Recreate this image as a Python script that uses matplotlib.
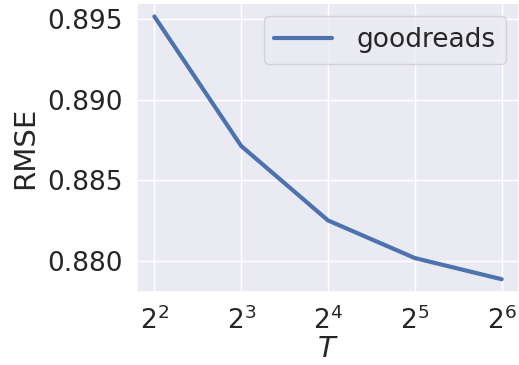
import matplotlib
matplotlib.use("Agg")
import matplotlib.pyplot as plt
import seaborn as sns

# RMSE on goodreads for different values of T
t_values = [4, 8, 16, 32, 64]
rmse_goodreads = [0.89515, 0.88713, 0.88252, 0.88019, 0.87888]
series_label = "goodreads"

sns.set_theme(style="darkgrid")
plt.rcParams["font.family"] = ["DejaVu Sans"]

fig = plt.figure(figsize=(5.19, 3.65), dpi=100)
ax = fig.add_axes([0.264, 0.199, 0.736, 0.792])

ax.plot(t_values, rmse_goodreads, color="#4c72b0", linewidth=3, label=series_label)
ax.set_xscale("log", base=2)
ax.set_xticks(t_values)
ax.minorticks_off()

ax.set_yticks([0.880, 0.885, 0.890, 0.895])
ax.set_yticklabels(["0.880", "0.885", "0.890", "0.895"])

ax.tick_params(axis="both", labelsize=19, pad=4)
ax.set_ylabel("RMSE", fontsize=21, labelpad=6)
ax.set_xlabel("$T$", fontsize=21, labelpad=0)

ax.legend(loc="upper right", fontsize=19, handlelength=2.2,
          handletextpad=0.9, borderaxespad=0.5)

fig.savefig("out.png", dpi=100)
